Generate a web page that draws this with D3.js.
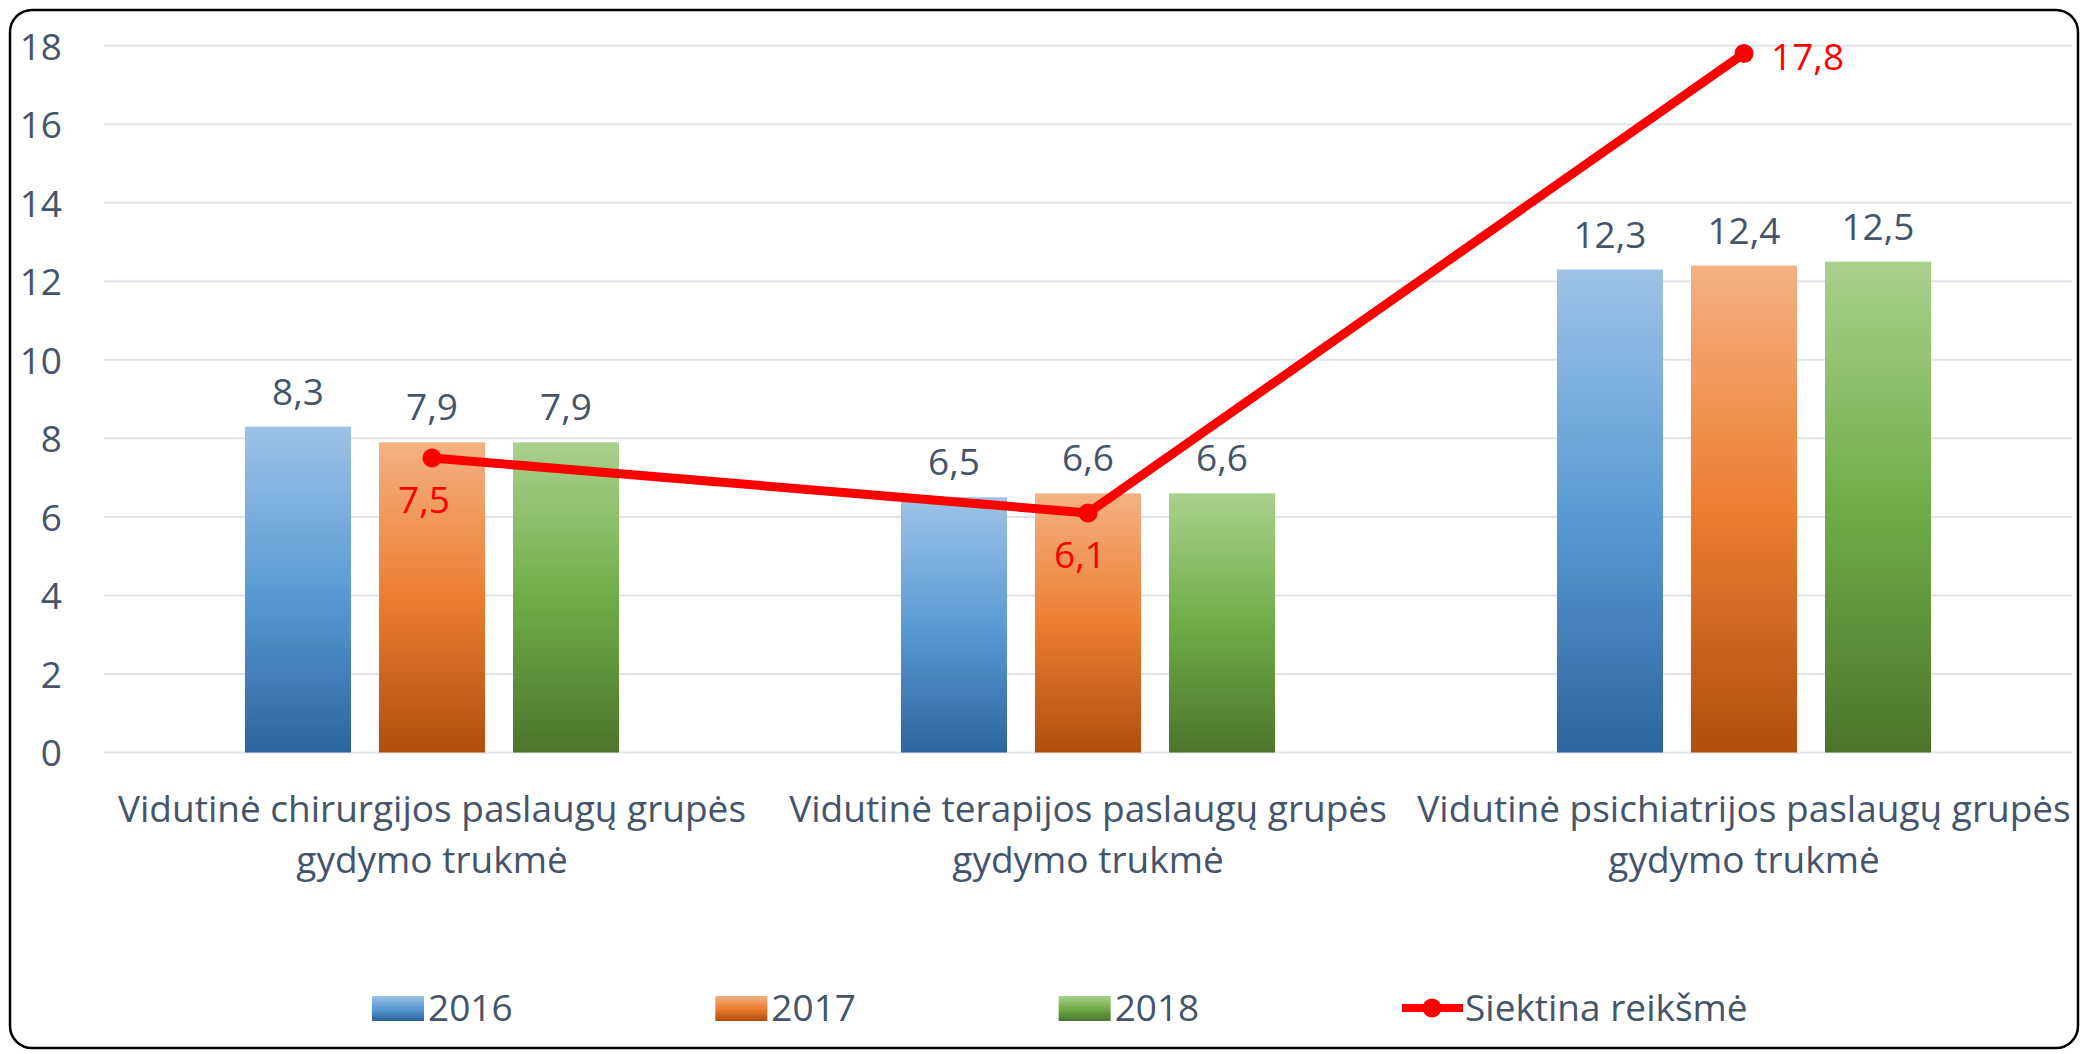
<!DOCTYPE html>
<html>
<head>
	<meta charset="utf-8">
	<title>gydymo trukme</title>
	<style>
		body{ margin:0; background:#fff; }
		text{ font-family: "Open Sans", sans-serif; fill:#44546A; }
		.grid line{ stroke:#E0E4EA; stroke-width:2; }
		.lbl-red{ fill:#FF0000; }
	</style>
	<script src="https://cdnjs.cloudflare.com/ajax/libs/d3/7.8.5/d3.min.js"></script>
</head>
<body>
<svg width="2085" height="1054"></svg>
<script>

	var categories = [
		["Vidutinė chirurgijos paslaugų grupės", "gydymo trukmė"],
		["Vidutinė terapijos paslaugų grupės", "gydymo trukmė"],
		["Vidutinė psichiatrijos paslaugų grupės", "gydymo trukmė"]
	];
	var years = ["2016", "2017", "2018"];
	var v2016 = [8.3, 6.5, 12.3];
	var v2017 = [7.9, 6.6, 12.4];
	var v2018 = [7.9, 6.6, 12.5];
	var target = [7.5, 6.1, 17.8];
	var targetName = "Siektina reikšmė";
	var yTicks = [0, 2, 4, 6, 8, 10, 12, 14, 16, 18];

	var series = [v2016, v2017, v2018];
	// light top, base middle, dark bottom
	var shades = [
		["#9DC3E6", "#5B9BD5", "#2C65A0"],
		["#F4B183", "#ED7D31", "#B04E0E"],
		["#A9D18E", "#70AD47", "#4B752C"]
	];

	var fmt = function(v){ return String(v).replace(".", ","); };

	var svg = d3.select("svg"),
	    fs = 37;

	var x = d3.scaleBand().domain(d3.range(categories.length)).range([104, 2072]).padding(0),
	    xs = d3.scaleBand().domain(d3.range(years.length)).range([-187, 187]).paddingInner(0.209).paddingOuter(0),
	    y = d3.scaleLinear().domain([0, 18]).range([752.5, 45.7]);

	var defs = svg.append("defs");
	shades.forEach(function(s, i){
		var gr = defs.append("linearGradient")
			.attr("id", "grad" + i)
			.attr("x1", 0).attr("y1", 0).attr("x2", 0).attr("y2", 1);
		gr.append("stop").attr("offset", "0%").attr("stop-color", s[0]);
		gr.append("stop").attr("offset", "50%").attr("stop-color", s[1]);
		gr.append("stop").attr("offset", "100%").attr("stop-color", s[2]);
	});

	svg.append("rect")
		.attr("x", 10).attr("y", 10)
		.attr("width", 2068).attr("height", 1038)
		.attr("rx", 22)
		.attr("fill", "#fff")
		.attr("stroke", "#000")
		.attr("stroke-width", 2.5);

	// gridlines
	svg.append("g")
		.attr("class", "grid")
		.selectAll("line")
		.data(yTicks)
		.enter().append("line")
		.attr("x1", 104).attr("x2", 2072)
		.attr("y1", function(d){ return y(d); })
		.attr("y2", function(d){ return y(d); });

	// y axis labels
	var yAxis = svg.append("g")
		.attr("transform", "translate(62,0)")
		.call(d3.axisLeft(y).tickValues(yTicks).tickSize(0).tickPadding(0));
	yAxis.select(".domain").remove();
	yAxis.selectAll("text")
		.attr("font-size", fs)
		.attr("font-family", null)
		.attr("fill", "#44546A")
		.attr("dy", "0.36em");

	// bars
	series.forEach(function(vals, si){
		var g = svg.append("g");
		g.selectAll("rect")
			.data(vals)
			.enter().append("rect")
			.attr("x", function(d, i){ return x(i) + x.bandwidth() / 2 + xs(si); })
			.attr("y", function(d){ return y(d); })
			.attr("width", xs.bandwidth())
			.attr("height", function(d){ return y(0) - y(d); })
			.attr("fill", "url(#grad" + si + ")");
		g.selectAll("text")
			.data(vals)
			.enter().append("text")
			.attr("x", function(d, i){ return x(i) + x.bandwidth() / 2 + xs(si) + xs.bandwidth() / 2; })
			.attr("y", function(d){ return y(d) - 22; })
			.attr("text-anchor", "middle")
			.attr("font-size", fs)
			.text(fmt);
	});

	// target line
	var cx = function(d, i){ return x(i) + x.bandwidth() / 2; };
	svg.append("path")
		.datum(target)
		.attr("fill", "none")
		.attr("stroke", "#FF0000")
		.attr("stroke-width", 9)
		.attr("stroke-linejoin", "round")
		.attr("d", d3.line().x(cx).y(function(d){ return y(d); }));
	svg.append("g").selectAll("circle")
		.data(target)
		.enter().append("circle")
		.attr("cx", cx)
		.attr("cy", function(d){ return y(d); })
		.attr("r", 9.5)
		.attr("fill", "#FF0000");
	svg.append("g").selectAll("text")
		.data(target)
		.enter().append("text")
		.attr("class", "lbl-red")
		.attr("font-size", fs)
		.attr("x", function(d, i){ return i == target.length - 1 ? cx(d, i) + 27 : cx(d, i) - 8; })
		.attr("y", function(d, i){ return i == target.length - 1 ? y(d) + 16 : y(d) + 55; })
		.attr("text-anchor", function(d, i){ return i == target.length - 1 ? "start" : "middle"; })
		.text(fmt);

	// category labels
	var cat = svg.append("g").selectAll("text")
		.data(categories)
		.enter().append("text")
		.attr("text-anchor", "middle")
		.attr("font-size", fs)
		.attr("x", function(d, i){ return x(i) + x.bandwidth() / 2; })
		.attr("y", 822);
	cat.selectAll("tspan")
		.data(function(d){ return d; })
		.enter().append("tspan")
		.attr("x", function(){ return d3.select(this.parentNode).attr("x"); })
		.attr("dy", function(d, i){ return i ? 51 : 0; })
		.text(function(d){ return d; });

	// legend
	var lx = d3.scalePoint().domain(d3.range(4)).range([372, 1402]);
	var leg = svg.append("g");
	years.forEach(function(yr, i){
		leg.append("rect")
			.attr("x", lx(i)).attr("y", 996)
			.attr("width", 52).attr("height", 25)
			.attr("fill", "url(#grad" + i + ")");
		leg.append("text")
			.attr("x", lx(i) + 56).attr("y", 1021)
			.attr("font-size", fs)
			.text(yr);
	});
	leg.append("line")
		.attr("x1", lx(3)).attr("x2", lx(3) + 61)
		.attr("y1", 1008).attr("y2", 1008)
		.attr("stroke", "#FF0000").attr("stroke-width", 8);
	leg.append("circle")
		.attr("cx", lx(3) + 30).attr("cy", 1008).attr("r", 9.5)
		.attr("fill", "#FF0000");
	leg.append("text")
		.attr("x", lx(3) + 63).attr("y", 1021)
		.attr("font-size", fs)
		.text(targetName);

</script>
</body>
</html>
